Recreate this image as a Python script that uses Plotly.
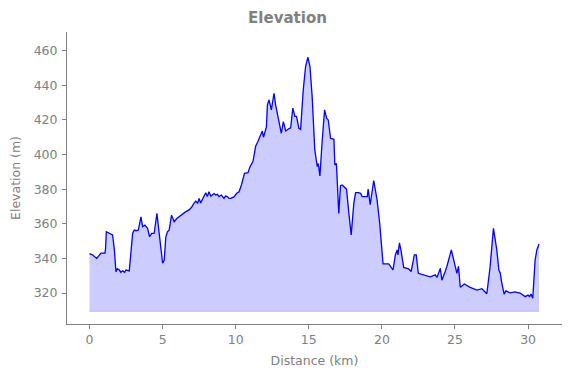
import plotly.graph_objects as go

distance_km = [0.0, 0.22, 0.49, 0.67, 0.78, 1.06, 1.1, 1.15, 1.35, 1.58, 1.7, 1.81, 1.9, 2.04, 2.15, 2.27, 2.4, 2.5,
               2.72, 2.83, 2.95, 3.06, 3.18, 3.34, 3.52, 3.63, 3.79, 3.97, 4.11, 4.25, 4.42, 4.61, 4.77, 4.88, 5.0,
               5.11, 5.22, 5.33, 5.45, 5.61, 5.79, 5.97, 6.12, 6.36, 6.59, 6.81, 6.97, 7.15, 7.27, 7.4, 7.5, 7.6,
               7.84, 7.95, 8.06, 8.17, 8.3, 8.41, 8.52, 8.64, 8.75, 8.86, 9.02, 9.2, 9.3, 9.43, 9.55, 9.66, 9.88,
               10.07, 10.23, 10.39, 10.46, 10.6, 10.84, 10.98, 11.18, 11.37, 11.52, 11.7, 11.82, 11.9, 12.1, 12.17,
               12.28, 12.44, 12.62, 12.73, 12.96, 13.12, 13.26, 13.42, 13.65, 13.76, 13.91, 14.05, 14.16, 14.32,
               14.44, 14.62, 14.78, 14.94, 15.08, 15.23, 15.41, 15.58, 15.65, 15.76, 15.92, 16.08, 16.22, 16.33,
               16.49, 16.72, 16.78, 16.89, 17.05, 17.17, 17.28, 17.5, 17.58, 17.73, 17.9, 18.08, 18.2, 18.4, 18.54,
               18.65, 19.0, 19.06, 19.2, 19.44, 19.67, 19.85, 20.08, 20.47, 20.76, 20.92, 21.04, 21.1, 21.2, 21.3,
               21.49, 21.83, 22.0, 22.22, 22.35, 22.49, 22.85, 23.31, 23.65, 23.77, 24.0, 24.1, 24.33, 24.45, 24.75,
               24.97, 25.13, 25.24, 25.36, 25.64, 26.04, 26.5, 26.84, 27.18, 27.4, 27.63, 27.86, 28.0, 28.1, 28.2,
               28.36, 28.48, 28.77, 29.1, 29.45, 29.8, 30.0, 30.1, 30.2, 30.32, 30.48, 30.6, 30.75]

elevation_m = [342.8, 342, 340, 341.5, 343, 343, 346, 355.4, 354.4, 353.5, 345, 332.3, 334, 333.3, 332, 332.8, 332,
               333.3, 332.8, 343, 354.5, 356.4, 356, 356.4, 364, 358.3, 359.2, 357.4, 352.5, 354.4, 354.4, 366,
               353.5, 344.9, 337.2, 339, 352.5, 355.4, 356.4, 365, 361.2, 363, 364, 365.5, 367, 368, 369.4, 371.9,
               373, 372, 374.7, 372, 376.6, 377.9, 375.7, 378.5, 376, 376.6, 377.5, 376.6, 377, 375.7, 376.6, 374.7,
               376, 375.7, 374.7, 374.7, 375.5, 377.6, 378.5, 382.4, 384.3, 389.2, 389.5, 393, 395.9, 405, 407.5,
               411.3, 413.6, 410, 416, 428.7, 431.6, 425.8, 435.4, 428.7, 420, 412.3, 419, 413.6, 415, 415.5, 426.8,
               422, 422, 415.2, 414.6, 437.3, 450.8, 456.2, 450.8, 433.5, 402.7, 393, 394.8, 387.6, 408.4, 425.8,
               421, 420, 409.4, 408.8, 394, 394.8, 366, 382, 382.4, 381, 380, 367, 353.5, 371.9, 378, 378, 377.6,
               375.7, 375.7, 380, 371, 385, 373.8, 360.3, 336.8, 336.8, 333.3, 342, 344.9, 342, 349, 345, 334.8,
               334, 332.4, 342, 342, 331.4, 330.5, 329.4, 330.5, 329, 334.3, 327.4, 332.4, 335.5, 344.9, 336, 331.4,
               335.5, 323.3, 325.2, 323.3, 321.7, 322.5, 319.6, 335, 357.4, 344.9, 333.3, 331.4, 325.8, 319.4, 321.2,
               320.1, 320.6, 320, 317.9, 318.8, 317.9, 319.4, 317, 339, 344.9, 348.3]

fill_base = 309.4
x_ticks = [0, 5, 10, 15, 20, 25, 30]
y_ticks = [320, 340, 360, 380, 400, 420, 440, 460]

GRAY = "#808080"
FONT = "DejaVu Sans"

# The page body has an 8px default margin, so the figure is sized/offset to compensate.
W, H = 563, 370

fig = go.Figure()
fig.add_trace(go.Scatter(
    x=distance_km, y=[fill_base] * len(distance_km), mode="lines",
    line=dict(color="rgba(0,0,255,0.2)", width=1), hoverinfo="skip", showlegend=False))
fig.add_trace(go.Scatter(
    x=distance_km, y=elevation_m, mode="lines", fill="tonexty",
    fillcolor="rgba(0,0,255,0.2)", line=dict(color="#0000ff", width=1.3), showlegend=False))

fig.update_layout(
    width=W, height=H,
    margin=dict(l=59, r=9, t=24, b=54),
    paper_bgcolor="white", plot_bgcolor="white",
    font=dict(family=FONT, color=GRAY, size=12.5),
    title=dict(text="<b>Elevation</b>", x=279.5 / W, xanchor="center", xref="container",
               y=1 - 10 / H, yanchor="middle", yref="container",
               font=dict(family=FONT, size=15, color=GRAY)),
    xaxis=dict(range=[-1.54, 32.32], tickvals=x_ticks, showgrid=False, zeroline=False, automargin=False,
               showline=True, linecolor=GRAY, linewidth=1, ticks="outside", tickcolor=GRAY,
               ticklen=4, tickfont=dict(size=12.5, color=GRAY),
               title=dict(text="Distance (km)", font=dict(size=12.5, color=GRAY), standoff=10)),
    yaxis=dict(range=[302.1, 470.8], tickvals=y_ticks, showgrid=False, zeroline=False, automargin=False,
               showline=True, linecolor=GRAY, linewidth=1, ticks="outside", tickcolor=GRAY,
               ticklen=4, ticklabelstandoff=2, tickfont=dict(size=12.5, color=GRAY),
               title=dict(text="Elevation (m)", font=dict(size=12.5, color=GRAY), standoff=11)),
)

fig.write_html("out.html")
